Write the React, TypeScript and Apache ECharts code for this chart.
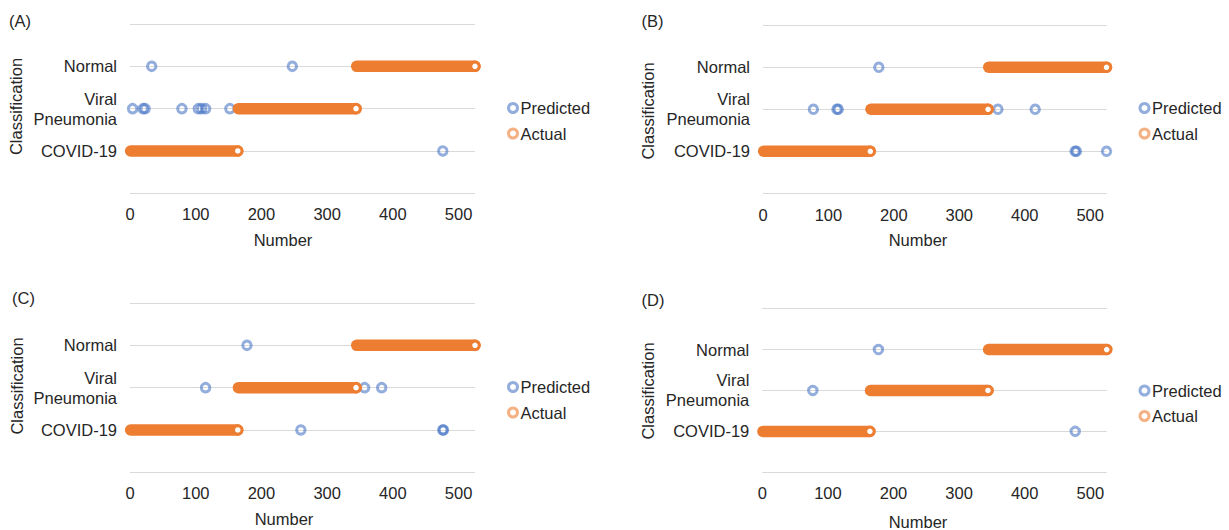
import React, { useEffect, useRef } from "react";
import * as echarts from "echarts";

// ---- data ----
const classNames = ["COVID-19", "Viral\nPneumonia", "Normal"]; // y levels 1, 2, 3
const actualFrom = [1, 165, 345]; // first sample number of each actual class
const actualTo = [164, 344, 525]; // last sample number of each actual class
const panelLabels = ["(A)", "(B)", "(C)", "(D)"];
const xTickLabels = ["0", "100", "200", "300", "400", "500"];

// visible (misclassified) predictions: [sample number, predicted class level]
const predictedA: number[][] = [
  [33, 3], [247, 3],
  [4, 2], [20, 2], [23, 2], [79, 2], [104, 2], [109, 2], [115, 2], [152, 2],
  [476, 1],
];
const predictedB: number[][] = [
  [177, 3],
  [77, 2], [113, 2], [115, 2], [359, 2], [416, 2],
  [477, 1], [479, 1], [525, 1],
];
const predictedC: number[][] = [
  [178, 3],
  [115, 2], [357, 2], [383, 2],
  [260, 1], [476, 1], [477, 1],
];
const predictedD: number[][] = [
  [177, 3],
  [77, 2],
  [477, 1],
];
const predictedSets = [predictedA, predictedB, predictedC, predictedD];

// ---- layout ----
const FONT = '"Liberation Sans", Arial, Helvetica, sans-serif';
const TEXT = "#262626";
const FS = 16.5;
const grids = [
  { left: 130, top: 24, width: 345, height: 169.3 },
  { left: 763, top: 25.3, width: 343.5, height: 168 },
  { left: 130, top: 303, width: 345, height: 169.3 },
  { left: 762.3, top: 308.6, width: 344.4, height: 163.7 },
];
const legendPos = [
  { left: 502, top: 94.5 },
  { left: 1133.5, top: 94.5 },
  { left: 502, top: 373.5 },
  { left: 1133.5, top: 377 },
];
const labelPos = [
  [9, 20.5], [641.5, 20.5], [12, 297.5], [641.5, 300],
];
const yNamePos = [
  [15.7, 106.5], [648, 111], [17, 386], [648, 391],
];
const xNamePos = [
  [283, 240], [918, 240], [284, 519], [918, 521.5],
];
const xLabelMargin = [12, 13, 12, 12];

const BLUE = "rgba(68,114,196,0.72)";
const ORANGE = "#ED7D31";

export default function App() {
  const ref = useRef<HTMLDivElement>(null);

  useEffect(() => {
    if (!ref.current) return;
    const chart = echarts.init(ref.current, undefined, { renderer: "svg" });

    const grid = grids.map((g) => ({ ...g, containLabel: false, outerBoundsMode: "none" }));

    const xAxis = grids.map((_, i) => ({
      gridIndex: i,
      type: "value",
      min: 0,
      max: 525,
      interval: 100,
      axisLine: { show: false },
      axisTick: { show: false },
      splitLine: { show: false },
      axisLabel: {
        showMaxLabel: false,
        margin: xLabelMargin[i],
        fontSize: FS,
        fontFamily: FONT,
        color: TEXT,
        formatter: (v: number) => xTickLabels[Math.round(v / 100)] ?? "",
      },
    }));

    const yAxis = grids.map((_, i) => ({
      gridIndex: i,
      type: "value",
      min: 0,
      max: 4,
      interval: 1,
      axisLine: { show: false },
      axisTick: { show: false },
      splitLine: { show: true, lineStyle: { color: "#d9d9d9", width: 1 } },
      axisLabel: {
        margin: 13,
        fontSize: FS,
        fontFamily: FONT,
        color: TEXT,
        lineHeight: 20,
        align: "right",
        padding: [0, 0, 6, 0],
        formatter: (v: number) => classNames[Math.round(v) - 1] ?? "",
      },
    }));

    const series: any[] = [];
    predictedSets.forEach((pts, i) => {
      series.push({
        type: "scatter",
        name: "Predicted",
        xAxisIndex: i,
        yAxisIndex: i,
        data: pts,
        symbol: "circle",
        symbolSize: 8.5,
        clip: false,
        silent: true,
        z: 2,
        itemStyle: { color: "rgba(255,255,255,0)", borderColor: BLUE, borderWidth: 3 },
      });
      classNames.forEach((_, c) => {
        series.push({
          type: "line",
          name: "Actual",
          xAxisIndex: i,
          yAxisIndex: i,
          data: [
            { value: [actualFrom[c], c + 1], symbol: "none" },
            { value: [actualTo[c], c + 1] },
          ],
          symbol: "circle",
          symbolSize: 8.5,
          showSymbol: true,
          clip: false,
          silent: true,
          z: 3,
          lineStyle: { color: ORANGE, width: 11.5, cap: "round" },
          itemStyle: { color: "#fff", borderColor: ORANGE, borderWidth: 3 },
        });
      });
    });

    const legend = legendPos.map((p) => ({
      left: p.left,
      top: p.top,
      orient: "vertical",
      itemWidth: 9,
      itemHeight: 9,
      itemGap: 8.5,
      selectedMode: false,
      textStyle: { fontSize: FS, fontFamily: FONT, color: TEXT, padding: [0, 0, 0, -2] },
      data: [
        {
          name: "Predicted",
          icon: "circle",
          itemStyle: { color: "#fff", borderColor: BLUE, borderWidth: 3 },
        },
        {
          name: "Actual",
          icon: "circle",
          itemStyle: { color: "#fff", borderColor: "rgba(237,125,49,0.6)", borderWidth: 3 },
        },
      ],
    }));

    const textStyle = (text: string, align: string) => ({
      text,
      font: `${FS}px ${FONT}`,
      fill: TEXT,
      textAlign: align,
      align,
      textVerticalAlign: "middle",
      verticalAlign: "middle",
    });

    const graphic: any[] = [];
    panelLabels.forEach((t, i) => {
      graphic.push({ type: "text", x: labelPos[i][0], y: labelPos[i][1], style: textStyle(t, "left") });
      graphic.push({
        type: "text",
        x: yNamePos[i][0],
        y: yNamePos[i][1],
        rotation: Math.PI / 2,
        style: textStyle("Classification", "center"),
      });
      graphic.push({ type: "text", x: xNamePos[i][0], y: xNamePos[i][1], style: textStyle("Number", "center") });
    });

    chart.setOption({
      animation: false,
      backgroundColor: "#ffffff",
      textStyle: { fontFamily: FONT },
      grid,
      xAxis,
      yAxis,
      legend,
      series,
      graphic,
    });

    return () => chart.dispose();
  }, []);

  return (
    <div
      ref={ref}
      style={{ position: "absolute", left: 0, top: 0, width: 1229, height: 530, background: "#fff" }}
    />
  );
}
